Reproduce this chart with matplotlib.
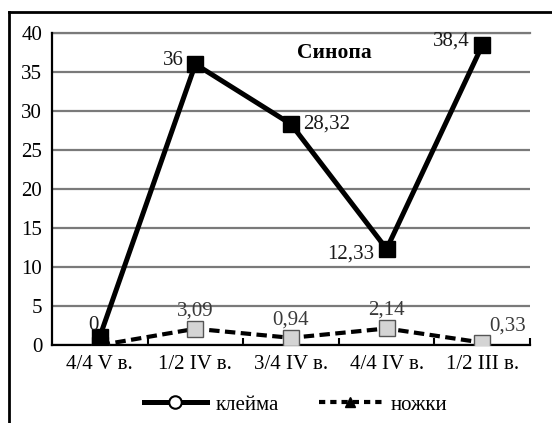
import matplotlib.pyplot as plt
from matplotlib.lines import Line2D

# Data
periods = ['4/4 V в.', '1/2 IV в.', '3/4 IV в.', '4/4 IV в.', '1/2 III в.']
klejma = [1.1, 36, 28.32, 12.33, 38.4]      # plotted marker heights
klejma_labels = ['0', '36', '28,32', '12,33', '38,4']
nozhki = [0, 2.1, 0.94, 2.14, 0.33]
nozhki_labels = ['', '3,09', '0,94', '2,14', '0,33']
yticks = [0, 5, 10, 15, 20, 25, 30, 35, 40]

plt.rcParams['font.family'] = ['Liberation Serif', 'DejaVu Serif']
fs = 15

fig = plt.figure(figsize=(5.52, 4.23), dpi=100)
ax = fig.add_axes([0.0942, 0.184, 0.866, 0.738])

x = list(range(len(periods)))

# grey series first so the black squares sit on top
ax.plot(x, nozhki, color='black', lw=3, dashes=(2.5, 1.3), zorder=3)
ax.plot(x, nozhki, ls='none', marker='s', ms=11.5, mfc='#d4d4d4', mec='#555555', mew=1, zorder=4)
ax.plot(x, klejma, color='black', lw=3.6, marker='s', ms=11.5, mfc='black', mec='black', zorder=5)

# data labels for клейма
offs_k = [(-1, 8, 'right'), (-8, 3, 'right'), (9, 0, 'left'), (-9, -4, 'right'), (-9, 3, 'right')]
for xi, yi, lab, (dx, dy, ha) in zip(x, klejma, klejma_labels, offs_k):
    ax.annotate(lab, (xi, yi), xytext=(dx, dy), textcoords='offset points',
                ha=ha, va='center', fontsize=fs, color='#1a1a1a', zorder=6)

# data labels for ножки
offs_n = [(0, 0, 'center'), (0, 13, 'center'), (0, 13, 'center'), (0, 13, 'center'), (18, 12, 'center')]
for xi, yi, lab, (dx, dy, ha) in zip(x, nozhki, nozhki_labels, offs_n):
    if lab:
        ax.annotate(lab, (xi, yi), xytext=(dx, dy), textcoords='offset points',
                    ha=ha, va='center', fontsize=fs, color='#3a3a3a', zorder=6)

ax.text(2.45, 37.4, 'Синопа', fontsize=15.5, fontweight='bold', ha='center', va='center')

ax.set_xlim(-0.5, 4.5)
ax.set_ylim(0, 40)
ax.set_yticks(yticks)
ax.set_yticklabels([str(v) for v in yticks])
ax.set_xticks(x)
ax.set_xticklabels(periods)
ax.set_xticks([0.5, 1.5, 2.5, 3.5, 4.5], minor=True)
ax.tick_params(axis='both', which='major', length=0, labelsize=fs, pad=7)
ax.tick_params(axis='x', which='minor', direction='in', length=5, width=1.5, color='black')
ax.yaxis.grid(True, color='#7a7a7a', lw=1.6)
ax.set_axisbelow(True)
for s in ['top', 'right']:
    ax.spines[s].set_visible(False)
ax.spines['left'].set_linewidth(1.6)
ax.spines['bottom'].set_linewidth(1.6)
ax.axhline(40, color='#7a7a7a', lw=1.6, zorder=1, clip_on=False)

handles = [
    Line2D([], [], color='black', lw=3.6, marker='o', ms=9, mfc='white', mec='black', mew=1.5),
    Line2D([], [], color='black', lw=3, dashes=(1.5, 1.2), marker='^', ms=7, mfc='black', mec='black'),
]
fig.legend(handles, ['клейма', 'ножки'], loc='center', bbox_to_anchor=(0.536, 0.043),
           ncol=2, frameon=False, fontsize=fs, handlelength=3.0, columnspacing=1.9, handletextpad=0.45)

# outer frame (left and top edges only are visible)
fig.add_artist(Line2D([0.017, 0.017], [0, 0.972], color='black', lw=2, transform=fig.transFigure))
fig.add_artist(Line2D([0.017, 1], [0.972, 0.972], color='black', lw=2, transform=fig.transFigure))

fig.savefig('out.png', dpi=100)
